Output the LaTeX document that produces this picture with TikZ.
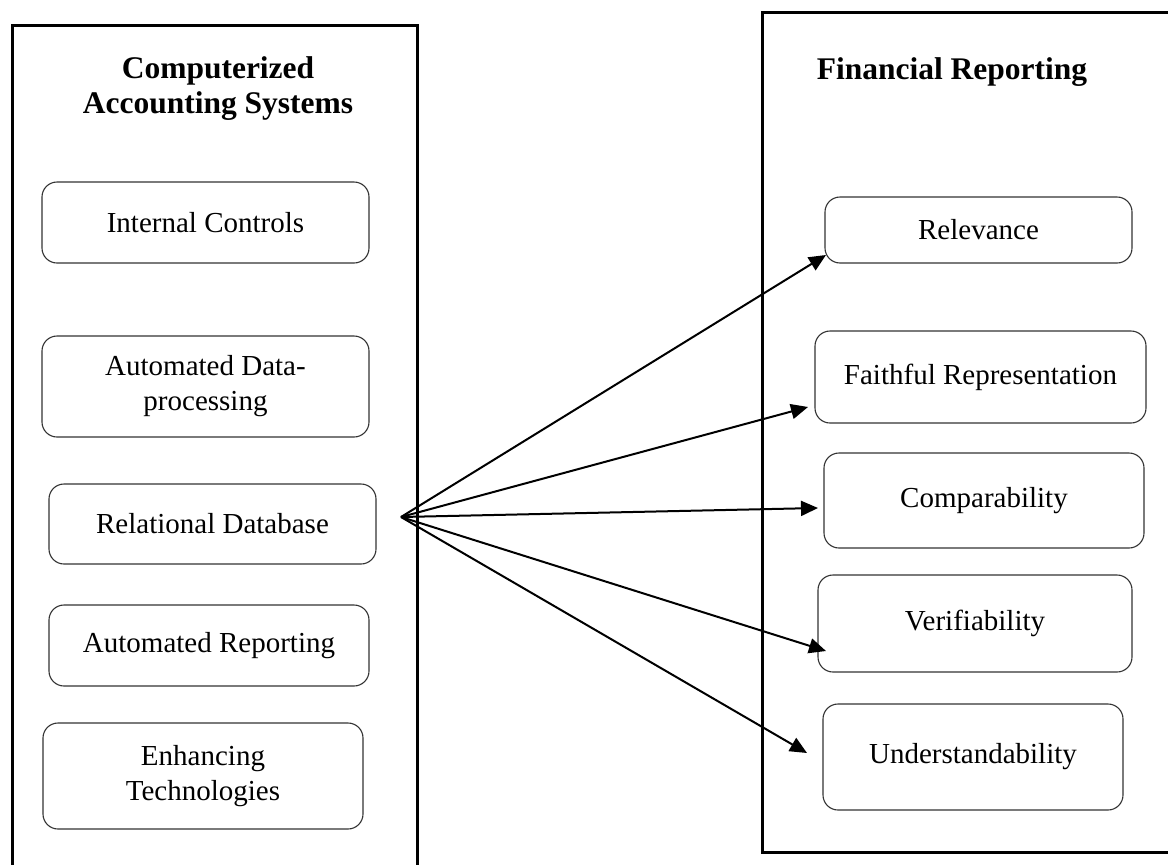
\documentclass[tikz,border=0pt]{standalone}
\usepackage{fontspec}
\setmainfont{Liberation Serif}
\usetikzlibrary{arrows.meta}
\begin{document}
\begin{tikzpicture}[x=1pt,y=-1pt,
  outerbox/.style={draw=black,line width=3pt},
  ibox/.style={draw=black!80,line width=1.1pt,rounded corners=15pt,inner sep=0pt,align=center,
    font=\fontsize{29}{35}\selectfont},
  titletext/.style={font=\fontsize{31.5}{35}\selectfont\bfseries,align=center,inner sep=0pt},
  conn/.style={line width=2pt,-{Triangle[length=17pt,width=15pt]}}]
\useasboundingbox (0,0) rectangle (1168,865);
\clip (0,0) rectangle (1168,865);
% outer boxes
\draw[outerbox] (12,25) rectangle (417,900);
\draw[outerbox] (762,12) rectangle (1200,852);
% titles
\node[titletext] (lt) at (218,89) {Computerized\\Accounting Systems};
\node[titletext] (rt) at (952,72) {Financial Reporting};
% left boxes
\node[ibox,minimum width=327pt,minimum height=81pt] (ic) at (205.5,222.5) {Internal Controls};
\node[ibox,minimum width=327pt,minimum height=101pt] (ad) at (205.5,386.5) {Automated Data-\\processing};
\node[ibox,minimum width=327pt,minimum height=80pt] (rd) at (212.5,524) {Relational Database};
\node[ibox,minimum width=320pt,minimum height=81pt] (ar) at (209,645.5) {Automated Reporting};
\node[ibox,minimum width=320pt,minimum height=106pt] (et) at (203,776) {Enhancing\\Technologies};
% right boxes
\node[ibox,minimum width=307pt,minimum height=66pt] (rel) at (978.5,230) {Relevance};
\node[ibox,minimum width=331pt,minimum height=92pt] (fr) at (980.5,377) {Faithful Representation};
\node[ibox,minimum width=320pt,minimum height=95pt] (cmp) at (984,500.5) {Comparability};
\node[ibox,minimum width=314pt,minimum height=97pt] (ver) at (975,623.5) {Verifiability};
\node[ibox,minimum width=300pt,minimum height=106pt] (und) at (973,757) {Understandability};
% connectors
\coordinate (o) at (401,517);
\coordinate (rel-in) at (826,255);
\coordinate (fr-in) at (808,407);
\coordinate (cmp-in) at (818,508);
\coordinate (ver-in) at (826,651);
\coordinate (und-in) at (807,753);
\draw[conn] (o) -- (rel-in);
\draw[conn] (o) -- (fr-in);
\draw[conn] (o) -- (cmp-in);
\draw[conn] (o) -- (ver-in);
\draw[conn] (o) -- (und-in);
\end{tikzpicture}
\end{document}
